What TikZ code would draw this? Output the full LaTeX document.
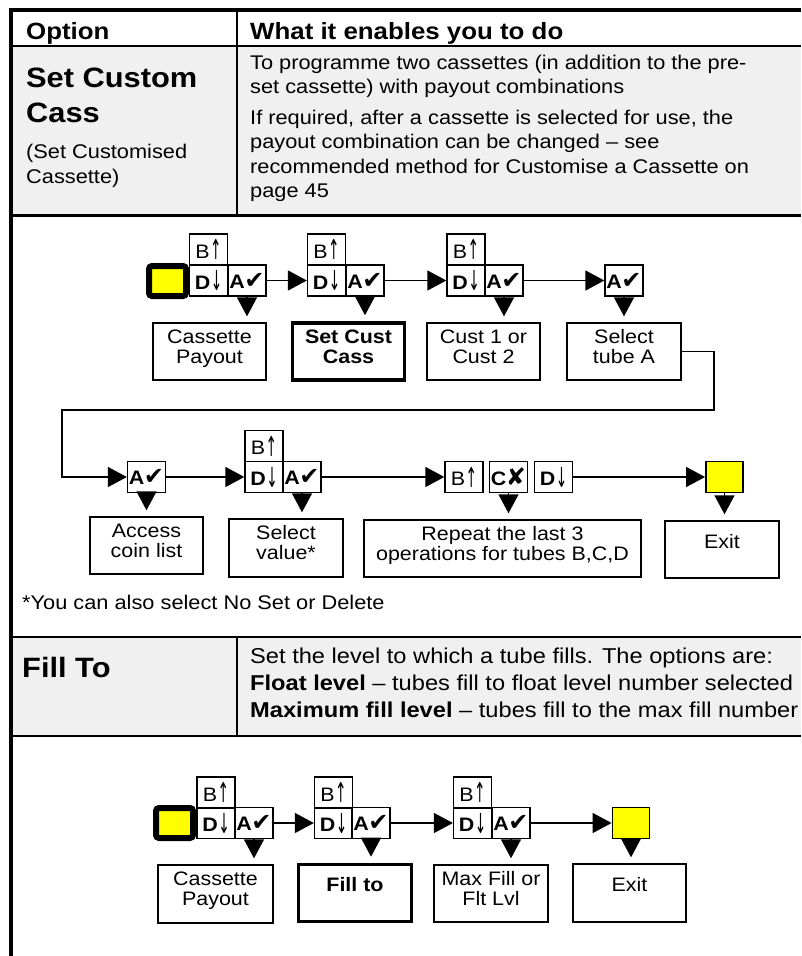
\documentclass[tikz,border=0pt]{standalone}
\usepackage{graphicx}
\usepackage{fontspec}
\setmainfont{Liberation Sans}[FakeStretch=1.1]
\newfontfamily\checkfont{DejaVu Sans}
\usetikzlibrary{arrows.meta}

\definecolor{rowgray}{HTML}{F0F0F0}
\definecolor{keyyellow}{HTML}{FFFF00}

% type sizes (1pt = 1 unit of the drawing)
\newcommand\fhead{\fontsize{23.5pt}{26pt}\selectfont\bfseries}
\newcommand\fname{\fontsize{28pt}{35pt}\selectfont\bfseries}
\newcommand\fnote{\fontsize{19.8pt}{25pt}\selectfont}
\newcommand\fbody{\fontsize{19.8pt}{24.5pt}\selectfont}
\newcommand\ffill{\fontsize{21.5pt}{27pt}\selectfont}
\newcommand\fstep{\fontsize{19.5pt}{20pt}\selectfont}
\newcommand\fkey{\fontsize{19.5pt}{19.5pt}\selectfont}
\newcommand\fglyph{\checkfont\fontsize{19pt}{19pt}\selectfont}
\newcommand\fcheck{\checkfont\fontsize{24pt}{24pt}\selectfont}

% key captions
\newcommand\keyup{\raisebox{-1.5pt}{\scalebox{0.72}[1.45]{\fglyph ↑}}}
\newcommand\keydown{\raisebox{-1.5pt}{\scalebox{0.72}[1.45]{\fglyph ↓}}}
\newcommand\keyB{B\kern0.5pt\keyup}
\newcommand\keyD{{\bfseries D}\kern0.5pt\keydown}
\newcommand\keyA{{\bfseries A}\kern-0.5pt{\fcheck ✔}}
\newcommand\keyC{{\bfseries C}\kern-0.5pt{\fcheck ✘}}

% left-aligned block of lines, baseline on the first line
\newcommand\textlines[1]{\begin{tabular}[t]{@{}l@{}}#1\end{tabular}}
% centred caption hung from a fixed height inside a step box
\newcommand\steptext[2][8.5pt]{\raisebox{#1}[0pt][0pt]{\begin{tabular}[t]{@{}c@{}}#2\end{tabular}}}

\begin{document}
\begin{tikzpicture}[x=1pt,y=-1pt,
  key/.style={draw, line width=1.3pt, minimum width=38pt, minimum height=31pt,
    inner sep=0pt, font=\fkey},
  startkey/.style={draw, fill=keyyellow, line width=6pt, rounded corners=3pt,
    minimum width=37pt, minimum height=30pt, inner sep=0pt},
  endkey/.style={draw, fill=keyyellow, line width=1.8pt, minimum width=37pt,
    minimum height=31pt, inner sep=0pt},
  stepbox/.style={draw, line width=1.4pt, minimum width=113pt, minimum height=57pt,
    inner sep=0pt, font=\fstep},
  current/.style={stepbox, line width=3.6pt},
  flow/.style={line width=1.4pt, -{Triangle[length=19pt,width=20pt]}},
  down/.style={flow, shorten >=6pt},
  rule/.style={line width=2.5pt},
  frame/.style={line width=4pt},
  txt/.style={anchor=base west, inner sep=0pt},
]
\useasboundingbox (0,0) rectangle (801,956);

% ---------- table ----------
\fill[rowgray] (11,46) rectangle (801,215);
\fill[rowgray] (11,637) rectangle (801,736);
\draw[rule] (11,46) -- (801,46);
\draw[rule] (237,10) -- (237,215);
\draw[rule] (11,215.5) -- (801,215.5);
\draw[rule] (11,637) -- (801,637);
\draw[rule] (237,637) -- (237,736);
\draw[rule] (11,736) -- (801,736);
\draw[frame] (11,8) -- (11,956);
\draw[frame] (9,10) -- (801,10);

\node[txt, font=\fhead] (hOpt) at (26,39) {Option};
\node[txt, font=\fhead] (hWhat) at (250,39) {What it enables you to do};

\node[txt, font=\fname] (nCass) at (26,87) {\textlines{Set Custom\\Cass}};
\node[txt, font=\fnote] (nCassFull) at (26,158) {\textlines{(Set Customised\\Cassette)}};
\node[txt, font=\fbody] (dCass) at (250,69) {\textlines{%
  To programme two cassettes (in addition to the pre-\\
  set cassette) with payout combinations\\[6pt]
  If required, after a cassette is selected for use, the\\
  payout combination can be changed -- see\\
  recommended method for Customise a Cassette on\\
  page 45}};

\node[txt, font=\fbody] (note) at (22,609) {*You can also select No Set or Delete};

\node[txt, font=\fname] (nFill) at (22,677) {Fill To};
\node[txt, font=\ffill] (dFill) at (250,663) {\textlines{%
  Set the level to which a tube fills. The options are:\\
  {\bfseries Float level} -- tubes fill to float level number selected\\
  {\bfseries Maximum fill level} -- tubes fill to the max fill number}};

% ---------- Set Custom Cass sequence ----------
\node[startkey] (s1) at (167.5,281) {};
\node[key] (b1) at (208.5,249.5) {\keyB};
\node[key] (d1) at (208.5,280.5) {\keyD};
\node[key] (a1) at (247,280.5) {\keyA};
\node[key] (b2) at (326.5,249.5) {\keyB};
\node[key] (d2) at (326.5,280.5) {\keyD};
\node[key] (a2) at (365,280.5) {\keyA};
\node[key] (b3) at (466,249.5) {\keyB};
\node[key] (d3) at (466,280.5) {\keyD};
\node[key] (a3) at (504,280.5) {\keyA};
\node[key] (a4) at (624,280.5) {\keyA};

\node[stepbox] (p1) at (209.5,351.5) {\steptext{Cassette\\Payout}};
\node[current, minimum width=112pt] (p2) at (348.5,351.5) {\steptext{\bfseries Set Cust\\\bfseries Cass}};
\node[stepbox] (p3) at (483.5,351.5) {\steptext{Cust 1 or\\Cust 2}};
\node[stepbox, minimum width=114pt] (p4) at (624,351.5) {\steptext{Select\\tube A}};

\draw[flow] (a1) -- (d2);
\draw[flow] (a2) -- (d3);
\draw[flow] (a3) -- (a4);
\foreach \k/\b in {a1/p1, a2/p2, a3/p3, a4/p4}
  \draw[down] (\k.south) -- (\k.south |- \b.north);

\node[key] (a5) at (146.5,477) {\keyA};
\node[key] (b6) at (264,446) {\keyB};
\node[key] (d6) at (264,477) {\keyD};
\node[key] (a6) at (302,477) {\keyA};
\node[key] (b7) at (464,477) {\keyB};
\node[key] (c7) at (508.5,477) {\keyC};
\node[key] (d7) at (553.5,477) {\keyD};
\node[endkey] (y8) at (724.5,477) {};

\node[stepbox] (q1) at (146.5,545.5) {\steptext{Access\\coin list}};
\node[stepbox, minimum width=114pt, minimum height=58pt] (q2) at (286,548) {\steptext[9pt]{Select\\value*}};
\node[stepbox, minimum width=277pt] (q3) at (502.5,548.5) {\steptext{Repeat the last 3\\operations for tubes B,C,D}};
\node[stepbox, minimum width=114pt] (q4) at (722,549.5) {\steptext[1.5pt]{Exit}};

\coordinate (turnR) at (714,410);
\coordinate (turnL) at (62,410);
\draw[flow] (p4.east) -| (turnR) -- (turnL) |- (a5.west);
\draw[flow] (a5) -- (d6);
\draw[flow] (a6) -- (b7);
\draw[flow] (d7) -- (y8);
\foreach \k/\b in {a5/q1, a6/q2, c7/q3, y8/q4}
  \draw[down] (\k.south) -- (\k.south |- \b.north);

% ---------- Fill To sequence ----------
\node[startkey] (s9) at (174.5,823) {};
\node[key] (b9) at (216,792.5) {\keyB};
\node[key] (d9) at (216,823) {\keyD};
\node[key] (a9) at (254,823) {\keyA};
\node[key] (b10) at (333.5,792.5) {\keyB};
\node[key] (d10) at (333.5,823) {\keyD};
\node[key] (a10) at (371,823) {\keyA};
\node[key] (b11) at (472.5,792.5) {\keyB};
\node[key] (d11) at (472.5,823) {\keyD};
\node[key] (a11) at (511,823) {\keyA};
\node[endkey] (y12) at (631,823) {};

\node[stepbox, minimum width=115pt, minimum height=58pt] (r1) at (215.5,894) {\steptext[9pt]{Cassette\\Payout}};
\node[current, minimum width=113pt, minimum height=57pt] (r2) at (355,893) {\steptext[2pt]{\bfseries Fill to}};
\node[stepbox, minimum width=114pt] (r3) at (491,893.5) {\steptext{Max Fill or\\Flt Lvl}};
\node[stepbox, minimum height=58pt] (r4) at (629.5,893) {\steptext[2pt]{Exit}};

\draw[flow] (a9) -- (d10);
\draw[flow] (a10) -- (d11);
\draw[flow] (a11) -- (y12);
\foreach \k/\b in {a9/r1, a10/r2, a11/r3, y12/r4}
  \draw[down] (\k.south) -- (\k.south |- \b.north);
\end{tikzpicture}
\end{document}
